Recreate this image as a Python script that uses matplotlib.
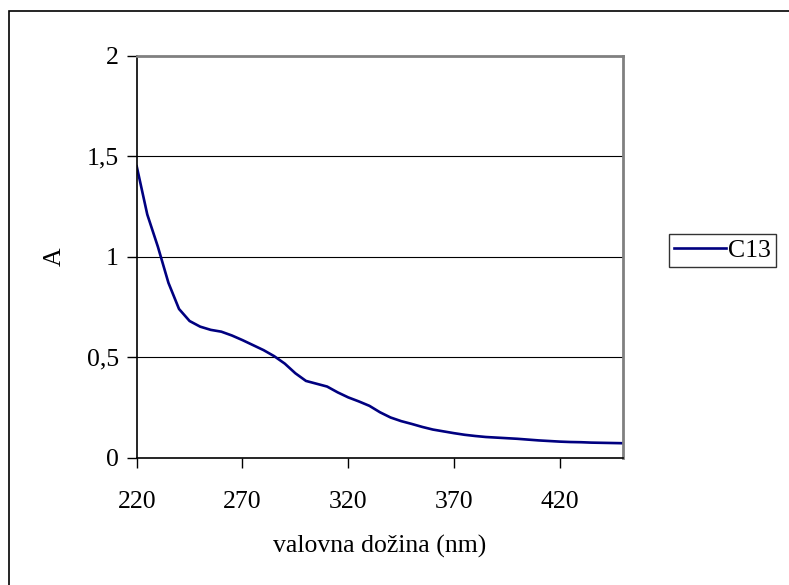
import matplotlib.pyplot as plt
from matplotlib.patches import Rectangle

# absorbance spectrum of C13
wavelength = [220, 225, 230, 235, 240, 245, 250, 255, 260, 265, 270, 275, 280,
              285, 290, 295, 300, 305, 310, 315, 320, 325, 330, 335, 340, 345,
              350, 355, 360, 365, 370, 375, 380, 385, 390, 395, 400, 405, 410,
              415, 420, 425, 430, 435, 440, 445, 450]
absorbance = [1.45, 1.21, 1.05, 0.87, 0.74, 0.68, 0.652, 0.636, 0.627, 0.608,
              0.585, 0.56, 0.535, 0.505, 0.468, 0.42, 0.382, 0.368, 0.354, 0.325,
              0.30, 0.28, 0.258, 0.226, 0.20, 0.182, 0.168, 0.153, 0.14, 0.131,
              0.122, 0.114, 0.108, 0.103, 0.100, 0.097, 0.094, 0.090, 0.086,
              0.083, 0.080, 0.078, 0.077, 0.075, 0.074, 0.073, 0.072]
xticks = [220, 270, 320, 370, 420]
yticks = [0, 0.5, 1, 1.5, 2]
yticklabels = ['0', '0,5', '1', '1,5', '2']

plt.rcParams['font.family'] = ['Liberation Serif', 'DejaVu Serif']
fs = 18.5

fig = plt.figure(figsize=(7.89, 5.85), dpi=100)
# outer chart border, running off the right and bottom edges
fig.patches.append(Rectangle((8.5/789, -1.0), 2.0, 2.0 - 11/585, transform=fig.transFigure,
                             fill=False, edgecolor='black', linewidth=1.2))

ax = fig.add_axes([136.7/789, 1 - 457.7/585, (623.3 - 136.7)/789, (457.7 - 55.7)/585])
ax.plot(wavelength, absorbance, color='#000080', linewidth=1.9, label='C13',
        solid_joinstyle='round')

ax.set_xlim(220, 450)
ax.set_ylim(0, 2)
ax.set_xticks(xticks)
ax.set_xticklabels([str(t) for t in xticks], fontsize=fs)
ax.set_yticks(yticks)
ax.set_yticklabels(yticklabels, fontsize=fs)
ax.tick_params(axis='both', direction='out', length=7, width=1, colors='black')
ax.tick_params(axis='x', pad=17)
ax.tick_params(axis='y', pad=6)

for y in yticks[1:-1]:
    ax.axhline(y, color='black', linewidth=0.8, zorder=0)

for s in ['left', 'bottom']:
    ax.spines[s].set_color('black')
    ax.spines[s].set_linewidth(1.2)
for s in ['top', 'right']:
    ax.spines[s].set_color('#808080')
    ax.spines[s].set_linewidth(2)

ax.set_xlabel('valovna dožina (nm)', fontsize=fs, labelpad=16)
ax.set_ylabel('A', fontsize=fs, labelpad=15)

leg = fig.legend(loc='center left', bbox_to_anchor=(669/789, 1 - 250.5/585),
                 fontsize=fs, frameon=True, fancybox=False, edgecolor='black',
                 handlelength=2.0, handletextpad=0.1, borderpad=0.2,
                 borderaxespad=0)
leg.get_frame().set_linewidth(1.0)

fig.savefig('out.png', dpi=100)
